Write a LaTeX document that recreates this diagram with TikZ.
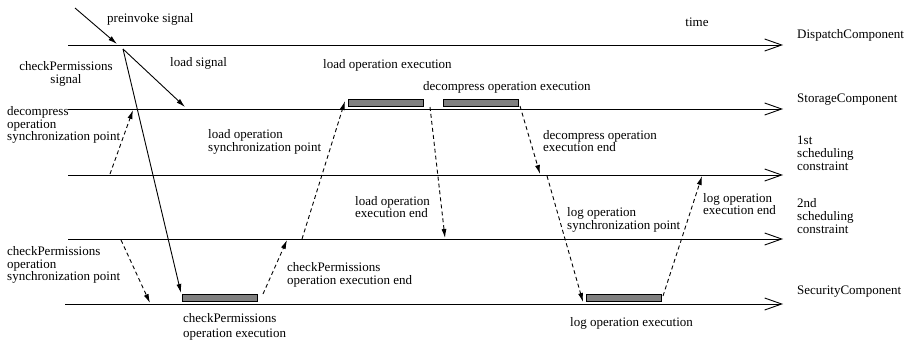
\documentclass[tikz,border=0pt]{standalone}
\usepackage{fontspec}
\setmainfont{Liberation Serif}
\usetikzlibrary{arrows.meta}
\begin{document}
\begin{tikzpicture}[x=1pt,y=-1pt,
  lane/.style={line width=0.9pt, -{Straight Barb[length=17pt,width=12pt,line width=0.9pt]}},
  sig/.style={line width=0.9pt, -{Latex[length=9pt,width=5pt]}},
  dsig/.style={line width=0.9pt, dash pattern=on 4pt off 3pt, -{Latex[length=9pt,width=5pt]}},
  box/.style={draw, line width=0.9pt, fill=black!50, minimum width=75pt, minimum height=7pt, inner sep=0pt, anchor=north west},
  lbl/.style={font=\fontsize{13}{12.8}\selectfont, inner sep=0pt, align=left, anchor=west}]
\useasboundingbox (0,0) rectangle (909,345);
% lanes
\coordinate (D0) at (68,45);  \coordinate (D1) at (783,45);
\coordinate (S0) at (68,109); \coordinate (S1) at (783,109);
\coordinate (F0) at (68,175); \coordinate (F1) at (783,175);
\coordinate (N0) at (68,239); \coordinate (N1) at (783,239);
\coordinate (C0) at (65,304); \coordinate (C1) at (783,304);
\draw[lane] (D0) -- (D1);
\draw[lane] (S0) -- (S1);
\draw[lane] (F0) -- (F1);
\draw[lane] (N0) -- (N1);
\draw[lane] (C0) -- (C1);
% lane labels
\node[lbl] (ld) at (797,35) {DispatchComponent};
\node[lbl] (ls) at (797,100) {StorageComponent};
\node[lbl] (lf) at (797,153) {1st\\scheduling\\constraint};
\node[lbl] (ln) at (797,216) {2nd\\scheduling\\constraint};
\node[lbl] (lc) at (797,292) {SecurityComponent};
\node[lbl, anchor=center] (time) at (697,22) {time};
% boxes
\node[box] (cpbox) at (182,294) {};
\node[box] (ldbox) at (348,99) {};
\node[box] (dcbox) at (443,99) {};
\node[box] (lgbox) at (586,294) {};
% signals
\coordinate (pre0) at (75,8); \coordinate (pre1) at (117,44);
\coordinate (src) at (123,49);
\coordinate (ls1) at (185,107);
\coordinate (cp1) at (181,293);
\draw[sig] (pre0) -- (pre1);
\draw[sig] (src) -- (ls1);
\draw[sig] (src) -- (cp1);
% dashed
\coordinate (a0) at (110,174); \coordinate (a1) at (133,110);
\coordinate (b0) at (121,240); \coordinate (b1) at (150,303);
\coordinate (c0) at (263,294); \coordinate (c1) at (287,240);
\coordinate (e0) at (302,239); \coordinate (e1) at (345,101);
\coordinate (f0) at (430,107); \coordinate (f1) at (445,238);
\coordinate (g0) at (520,106); \coordinate (g1) at (540,174);
\coordinate (h0) at (547,176); \coordinate (h1) at (583,302);
\coordinate (k0) at (663,296); \coordinate (k1) at (702,176);
\draw[dsig] (a0) -- (a1);
\draw[dsig] (b0) -- (b1);
\draw[dsig] (c0) -- (c1);
\draw[dsig] (e0) -- (e1);
\draw[dsig] (f0) -- (f1);
\draw[dsig] (g0) -- (g1);
\draw[dsig] (h0) -- (h1);
\draw[dsig] (k0) -- (k1);
% labels
\node[lbl] (t1) at (107,19) {preinvoke signal};
\node[lbl] (t2) at (170,63) {load signal};
\node[lbl, align=center, anchor=center] (t3) at (66,74) {checkPermissions\\signal};
\node[lbl] (t4) at (7,125) {decompress\\operation\\synchronization point};
\node[lbl] (t5) at (208,142) {load operation\\synchronization point};
\node[lbl] (t6) at (323,65) {load operation execution};
\node[lbl] (t7) at (423,87) {decompress operation execution};
\node[lbl] (t8) at (543,141) {decompress operation\\execution end};
\node[lbl] (t9) at (355,207) {load operation\\execution end};
\node[lbl] (t10) at (567,220) {log operation\\synchronization point};
\node[lbl] (t11) at (703,204) {log operation\\execution end};
\node[lbl] (t12) at (7,265) {checkPermissions\\operation\\synchronization point};
\node[lbl] (t13) at (287,275) {checkPermissions\\operation execution end};
\node[lbl, font=\fontsize{13}{15}\selectfont] (t14) at (183,327) {checkPermissions\\operation execution};
\node[lbl] (t15) at (570,323) {log operation execution};
\end{tikzpicture}
\end{document}
